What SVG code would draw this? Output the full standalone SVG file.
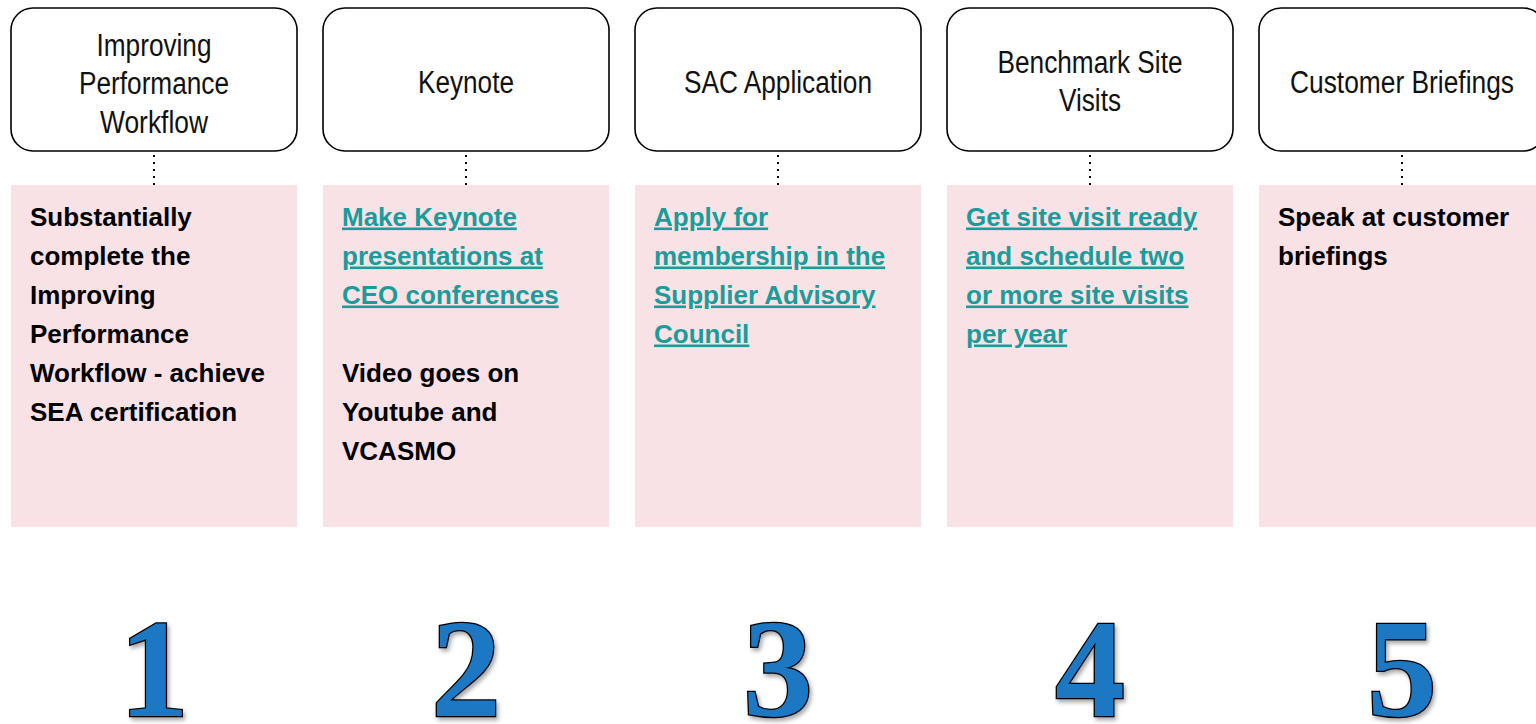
<svg xmlns="http://www.w3.org/2000/svg" width="1536" height="724" viewBox="0 0 1536 724">
<style>
.box{fill:#ffffff;stroke:#000000;stroke-width:1.6}
.pane{fill:#f8e2e6}
.hd{font-family:"Liberation Sans",Arial,sans-serif;font-size:31px;fill:#111111;text-anchor:middle}
.bt{font-family:"Liberation Sans",Arial,sans-serif;font-size:26px;font-weight:bold;fill:#000000}
.ln{fill:#1a9c9a;text-decoration:underline}
.num{font-family:"Liberation Serif","Times New Roman",serif;font-size:140px;font-weight:bold;fill:#1a78c2;stroke:#000000;stroke-width:2.5;text-anchor:middle;paint-order:stroke;filter:url(#sh)}
.conn{stroke:#000000;stroke-width:2;stroke-dasharray:2 5;fill:none}
</style>
<defs>
<filter id="sh" x="-20%" y="-20%" width="150%" height="150%">
<feDropShadow dx="2" dy="3" stdDeviation="2" flood-color="#000000" flood-opacity="0.35"/>
</filter>
</defs>
<rect width="1536" height="724" fill="#ffffff"/>
<g id="connectors">
<line class="conn" x1="154" y1="155" x2="154" y2="186"/>
<line class="conn" x1="466" y1="155" x2="466" y2="186"/>
<line class="conn" x1="778" y1="155" x2="778" y2="186"/>
<line class="conn" x1="1090" y1="155" x2="1090" y2="186"/>
<line class="conn" x1="1402" y1="155" x2="1402" y2="186"/>
</g>
<g id="node1">
<rect class="box" x="11" y="8" width="286" height="143" rx="22"/>
<text class="hd" x="154" y="56" textLength="115" lengthAdjust="spacingAndGlyphs">Improving</text>
<text class="hd" x="154" y="94" textLength="150" lengthAdjust="spacingAndGlyphs">Performance</text>
<text class="hd" x="154" y="133" textLength="108" lengthAdjust="spacingAndGlyphs">Workflow</text>
<rect class="pane" x="11" y="185" width="286" height="342"/>
<text class="bt" x="30" y="225.5">Substantially</text>
<text class="bt" x="30" y="264.5">complete the</text>
<text class="bt" x="30" y="303.5">Improving</text>
<text class="bt" x="30" y="342.5">Performance</text>
<text class="bt" x="30" y="381.5">Workflow - achieve</text>
<text class="bt" x="30" y="420.5">SEA certification</text>
<text class="num" x="154" y="716">1</text>
</g>
<g id="node2">
<rect class="box" x="323" y="8" width="286" height="143" rx="22"/>
<text class="hd" x="466" y="93" textLength="96" lengthAdjust="spacingAndGlyphs">Keynote</text>
<rect class="pane" x="323" y="185" width="286" height="342"/>
<text class="bt ln" x="342" y="225.5">Make Keynote</text>
<text class="bt ln" x="342" y="264.5">presentations at</text>
<text class="bt ln" x="342" y="303.5">CEO conferences</text>
<text class="bt" x="342" y="381.5">Video goes on</text>
<text class="bt" x="342" y="420.5">Youtube and</text>
<text class="bt" x="342" y="459.5">VCASMO</text>
<text class="num" x="466" y="716">2</text>
</g>
<g id="node3">
<rect class="box" x="635" y="8" width="286" height="143" rx="22"/>
<text class="hd" x="778" y="93" textLength="188" lengthAdjust="spacingAndGlyphs">SAC Application</text>
<rect class="pane" x="635" y="185" width="286" height="342"/>
<text class="bt ln" x="654" y="225.5">Apply for</text>
<text class="bt ln" x="654" y="264.5">membership in the</text>
<text class="bt ln" x="654" y="303.5">Supplier Advisory</text>
<text class="bt ln" x="654" y="342.5">Council</text>
<text class="num" x="778" y="716">3</text>
</g>
<g id="node4">
<rect class="box" x="947" y="8" width="286" height="143" rx="22"/>
<text class="hd" x="1090" y="73" textLength="185" lengthAdjust="spacingAndGlyphs">Benchmark Site</text>
<text class="hd" x="1090" y="111" textLength="62" lengthAdjust="spacingAndGlyphs">Visits</text>
<rect class="pane" x="947" y="185" width="286" height="342"/>
<text class="bt ln" x="966" y="225.5">Get site visit ready</text>
<text class="bt ln" x="966" y="264.5">and schedule two</text>
<text class="bt ln" x="966" y="303.5">or more site visits</text>
<text class="bt ln" x="966" y="342.5">per year</text>
<text class="num" x="1090" y="716">4</text>
</g>
<g id="node5">
<rect class="box" x="1259" y="8" width="286" height="143" rx="22"/>
<text class="hd" x="1402" y="93" textLength="224" lengthAdjust="spacingAndGlyphs">Customer Briefings</text>
<rect class="pane" x="1259" y="185" width="286" height="342"/>
<text class="bt" x="1278" y="225.5">Speak at customer</text>
<text class="bt" x="1278" y="264.5">briefings</text>
<text class="num" x="1402" y="716">5</text>
</g>
</svg>
